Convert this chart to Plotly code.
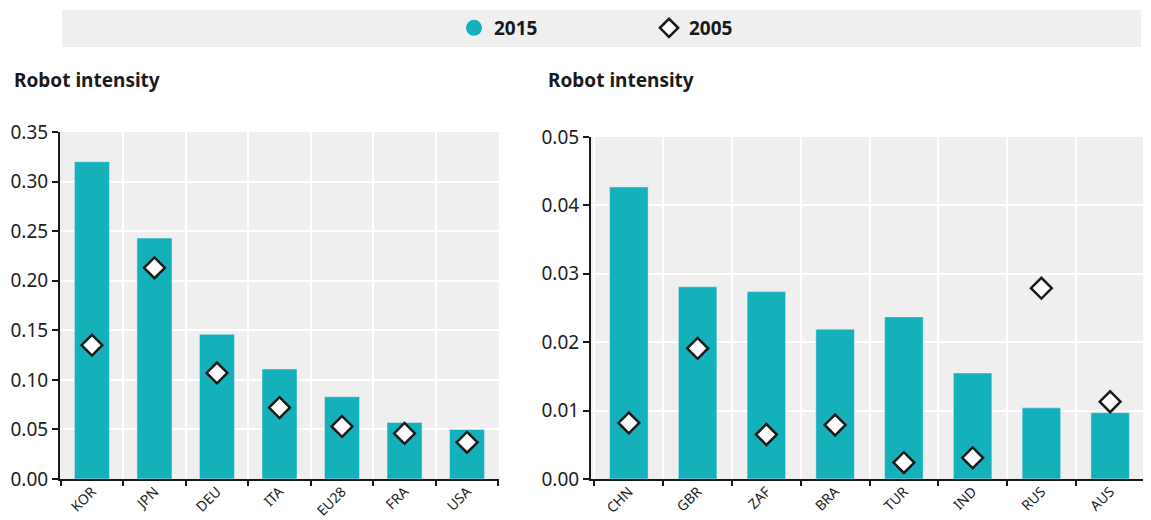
import plotly.graph_objects as go

# left panel
left_countries = ["KOR", "JPN", "DEU", "ITA", "EU28", "FRA", "USA"]
left_2015 = [0.320, 0.243, 0.146, 0.111, 0.083, 0.057, 0.050]
left_2005 = [0.135, 0.213, 0.107, 0.072, 0.053, 0.046, 0.037]

# right panel
right_countries = ["CHN", "GBR", "ZAF", "BRA", "TUR", "IND", "RUS", "AUS"]
right_2015 = [0.0427, 0.0281, 0.0274, 0.0219, 0.0237, 0.0155, 0.0104, 0.0097]
right_2005 = [0.0082, 0.0191, 0.0065, 0.0079, 0.0024, 0.0031, 0.0279, 0.0113]

TEAL = "#14b1bb"
FONT = "Noto Sans"
# page body has an 8px margin, so the figure is drawn 8px in from the corner
OFF = 8
W, H = 1151 - OFF, 520


def px(x):
    return (x - OFF) / W


def py(y):
    return 1 - (y - OFF) / H


fig = go.Figure()

for cats, v15, v05, xa, ya in [
    (left_countries, left_2015, left_2005, "x", "y"),
    (right_countries, right_2015, right_2005, "x2", "y2"),
]:
    fig.add_trace(go.Bar(x=cats, y=v15, marker_color=TEAL, width=0.56,
                         showlegend=False, xaxis=xa, yaxis=ya))
    fig.add_trace(go.Scatter(
        x=cats, y=v05, mode="markers", showlegend=False, xaxis=xa, yaxis=ya,
        marker=dict(symbol="diamond", size=16, color="white",
                    line=dict(color="#1a1a1a", width=2.5))))

# legend-only traces
fig.add_trace(go.Scatter(x=[None], y=[None], mode="markers", name="2015",
                         marker=dict(symbol="circle", size=20, color=TEAL)))
fig.add_trace(go.Scatter(x=[None], y=[None], mode="markers", name="2005",
                         marker=dict(symbol="diamond", size=14, color="white",
                                     line=dict(color="#1a1a1a", width=2.5))))

xcommon = dict(type="category", tickson="boundaries", showgrid=True,
               gridcolor="white", gridwidth=2, showline=True,
               linecolor="#1a1a1a", linewidth=2, ticks="outside",
               ticklen=5, tickwidth=2, tickcolor="#1a1a1a", tickangle=-45,
               automargin=False, ticklabelstandoff=-3,
               tickfont=dict(family=FONT, size=14, color="#222"))
ycommon = dict(showgrid=True, gridcolor="white", gridwidth=2, showline=True,
               linecolor="#1a1a1a", linewidth=2, ticks="outside", ticklen=6,
               tickwidth=2, tickcolor="#1a1a1a", zeroline=False,
               tickformat=".2f", automargin=False,
               tickfont=dict(family=FONT, size=19, color="#222"))

fig.update_layout(
    width=W, height=H,
    margin=dict(l=0, r=0, t=0, b=0, autoexpand=False),
    paper_bgcolor="white", plot_bgcolor="#efefef",
    xaxis=dict(domain=[px(60), px(499)], anchor="y", **xcommon),
    yaxis=dict(domain=[py(479), py(132)], range=[0, 0.35],
               dtick=0.05, anchor="x", **ycommon),
    xaxis2=dict(domain=[px(591), min(px(1148), 1)], anchor="y2", **xcommon),
    yaxis2=dict(domain=[py(479), py(137)], range=[0, 0.05],
                dtick=0.01, anchor="x2", **ycommon),
    legend=dict(orientation="h", x=px(454), xanchor="left",
                y=py(28), yanchor="middle", entrywidth=150,
                entrywidthmode="pixels", bgcolor="rgba(0,0,0,0)",
                font=dict(family=FONT, size=19, color="#1a1a1a",
                          weight="bold")),
    shapes=[dict(type="rect", xref="paper", yref="paper",
                 x0=px(62), x1=px(1141), y0=py(47), y1=py(10),
                 fillcolor="#efefef", line=dict(width=0), layer="below")],
    annotations=[
        dict(text="<b>Robot intensity</b>", xref="paper", yref="paper",
             x=px(12), y=py(80), xanchor="left", yanchor="middle",
             showarrow=False, font=dict(family=FONT, size=19, color="#1a1a1a")),
        dict(text="<b>Robot intensity</b>", xref="paper", yref="paper",
             x=px(546), y=py(80), xanchor="left", yanchor="middle",
             showarrow=False, font=dict(family=FONT, size=19, color="#1a1a1a")),
    ],
)

fig.write_html("out.html")
